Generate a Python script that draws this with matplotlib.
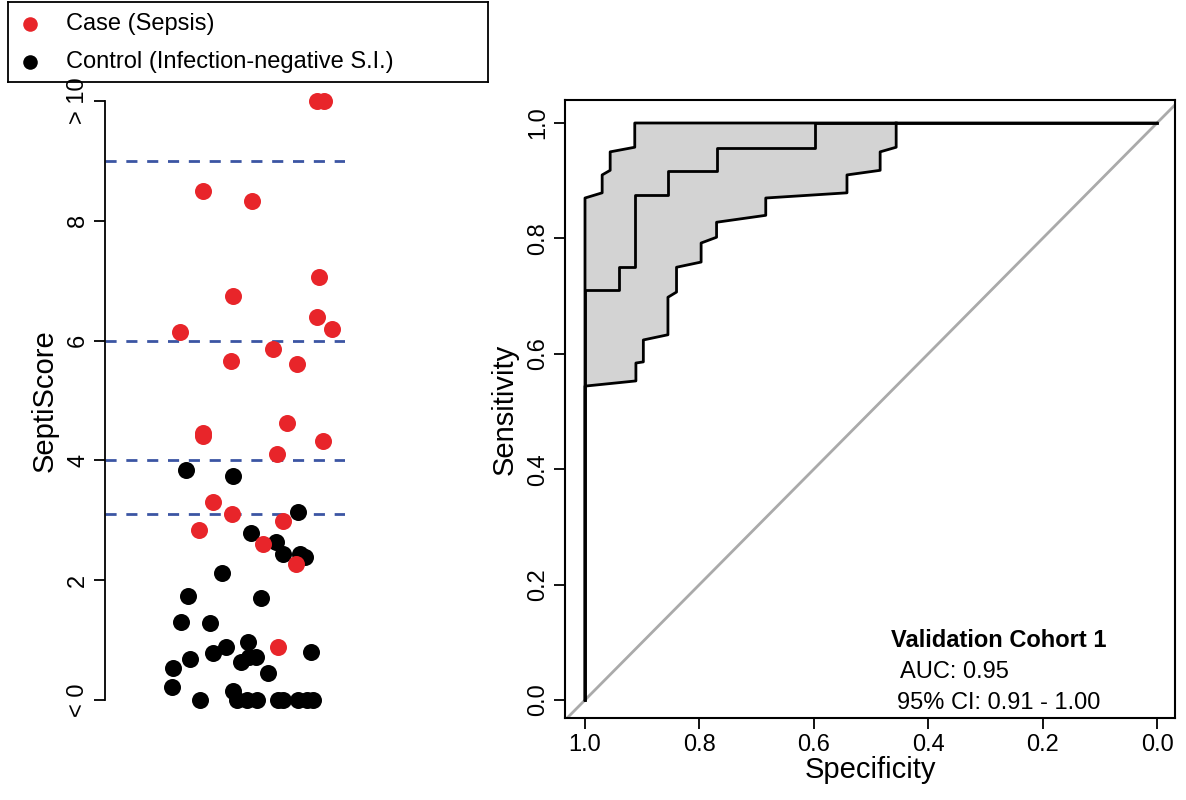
import matplotlib
matplotlib.use("Agg")
import matplotlib.pyplot as plt
import numpy as np

plt.rcParams["font.family"] = ["Liberation Sans", "DejaVu Sans"]

# --- left panel: jittered strip (x = jitter position, y = SeptiScore, clipped 0..10) ---
case_x = [317, 324, 203, 252, 319, 233, 317, 332, 180, 231, 273, 297,
          203, 203, 287, 323, 277, 213, 232, 283, 199, 263, 296, 278]
case_y = [10, 10, 8.5, 8.33, 7.06, 6.74, 6.39, 6.19, 6.14, 5.66, 5.86, 5.61,
          4.46, 4.41, 4.62, 4.33, 4.1, 3.31, 3.1, 2.99, 2.83, 2.6, 2.27, 0.89]
ctrl_x = [186, 233, 298, 251, 276, 283, 300, 305, 222, 188, 261, 181, 210,
          248, 226, 213, 311, 190, 241, 249, 256, 173, 268, 172, 233, 200,
          237, 247, 257, 278, 283, 298, 307, 313]
ctrl_y = [3.84, 3.74, 3.14, 2.78, 2.63, 2.44, 2.44, 2.39, 2.12, 1.74, 1.7,
          1.3, 1.28, 0.97, 0.88, 0.79, 0.8, 0.68, 0.63, 0.72, 0.72, 0.53,
          0.45, 0.22, 0.15, 0, 0, 0, 0, 0, 0, 0, 0, 0]
cutoffs = [3.1, 4, 6, 9]

# --- right panel: ROC (specificity, sensitivity) ---
roc_spec = [1.0, 1.0, 0.94, 0.94, 0.913, 0.913, 0.855, 0.855, 0.77, 0.77,
            0.598, 0.598, 0.0]
roc_sens = [0.0, 0.71, 0.71, 0.75, 0.75, 0.875, 0.875, 0.917, 0.917, 0.957,
            0.957, 1.0, 1.0]
# upper CI bound: from spec 1 up to the top edge
ci_hi_spec = [1.0, 1.0, 0.97, 0.97, 0.956, 0.956, 0.913, 0.913]
ci_hi_sens = [0.0, 0.87, 0.879, 0.91, 0.918, 0.95, 0.958, 1.0]
# lower CI bound: from the top edge down to spec 1
ci_lo_spec = [0.456, 0.456, 0.484, 0.484, 0.542, 0.542, 0.684, 0.684,
              0.77, 0.77, 0.797, 0.797, 0.84, 0.84, 0.855, 0.855, 0.898,
              0.898, 0.911, 0.911, 1.0, 1.0]
ci_lo_sens = [1.0, 0.958, 0.95, 0.918, 0.91, 0.879, 0.87, 0.84, 0.828,
              0.802, 0.792, 0.759, 0.75, 0.707, 0.698, 0.633, 0.624, 0.586,
              0.584, 0.553, 0.544, 0.0]

W, H = 1186, 800
fig = plt.figure(figsize=(W / 100, H / 100), dpi=100)

def rect(l, r, t, b):
    return [l / W, 1 - b / H, (r - l) / W, (b - t) / H]

RED = "#e8252a"

# legend box (added first so the y tick label of the strip plot sits on top)
lg = fig.add_axes(rect(8, 488, 2, 82))
lg.set_xlim(0, 480)
lg.set_ylim(80, 0)
lg.set_xticks([])
lg.set_yticks([])
for s in lg.spines.values():
    s.set_linewidth(1.3)
lg.scatter([22], [22], s=110, color=RED, lw=0)
lg.scatter([22], [60], s=110, color="black", lw=0)
lg.text(58, 22, "Case (Sepsis)", fontsize=17, va="center")
lg.text(58, 60, "Control (Infection-negative S.I.)", fontsize=17, va="center")

ax1 = fig.add_axes(rect(105, 345, 90, 712))
ax1.patch.set_alpha(0)
ax1.set_xlim(105, 345)
ax1.set_ylim(-12 / 59.9, 10 + 11 / 59.9)
for c in cutoffs:
    ax1.axhline(c, color="#3b55a3", lw=2, ls=(0, (4, 3.5)), zorder=1)
ax1.scatter(ctrl_x, ctrl_y, s=150, color="black", zorder=2, lw=0)
ax1.scatter(case_x, case_y, s=150, color=RED, zorder=3, lw=0)
for s in ["top", "right", "bottom"]:
    ax1.spines[s].set_visible(False)
ax1.spines["left"].set_bounds(0, 10)
ax1.spines["left"].set_linewidth(1.3)
ax1.set_xticks([])
ax1.set_yticks([0, 2, 4, 6, 8, 10])
ax1.set_yticklabels(["< 0", "2", "4", "6", "8", "> 10"], rotation=90,
                    va="center", fontsize=17)
ax1.tick_params(axis="y", length=8, width=1.3)
ax1.set_ylabel("SeptiScore", fontsize=21, labelpad=6)

ax2 = fig.add_axes(rect(565, 1175, 100, 718))
ax2.set_xlim(1 + 20 / 572, -18 / 572)
ax2.set_ylim(-18 / 577, 1 + 23 / 577)
ax2.plot([1.2, -0.2], [-0.2, 1.2], color="#aaaaaa", lw=2, zorder=1)
ax2.fill(ci_hi_spec[1:] + ci_lo_spec[:-1], ci_hi_sens[1:] + ci_lo_sens[:-1],
         color="#d3d3d3", lw=0, zorder=2)
ax2.plot(ci_hi_spec + [0.0], ci_hi_sens + [1.0], color="black", lw=2, zorder=3)
ax2.plot(ci_lo_spec, ci_lo_sens, color="black", lw=2, zorder=3)
ax2.plot(roc_spec, roc_sens, color="black", lw=2, zorder=4)
for s in ax2.spines.values():
    s.set_linewidth(1.5)
ticks = [0.0, 0.2, 0.4, 0.6, 0.8, 1.0]
ax2.set_xticks(ticks)
ax2.set_xticklabels([f"{t:.1f}" for t in ticks], fontsize=17)
ax2.set_yticks(ticks)
ax2.set_yticklabels([f"{t:.1f}" for t in ticks], fontsize=17, rotation=90,
                    va="center")
ax2.tick_params(length=8, width=1.3)
ax2.set_xlabel("Specificity", fontsize=21, labelpad=0)
ax2.set_ylabel("Sensitivity", fontsize=21, labelpad=6)
ax2.text(0.535, 0.125, "Validation Cohort 1", fontsize=17, weight="bold",
         transform=ax2.transAxes, va="center")
ax2.text(0.55, 0.075, "AUC: 0.95", fontsize=17, transform=ax2.transAxes,
         va="center")
ax2.text(0.545, 0.025, "95% CI: 0.91 - 1.00", fontsize=17,
         transform=ax2.transAxes, va="center")

fig.savefig("out.png", dpi=100)
